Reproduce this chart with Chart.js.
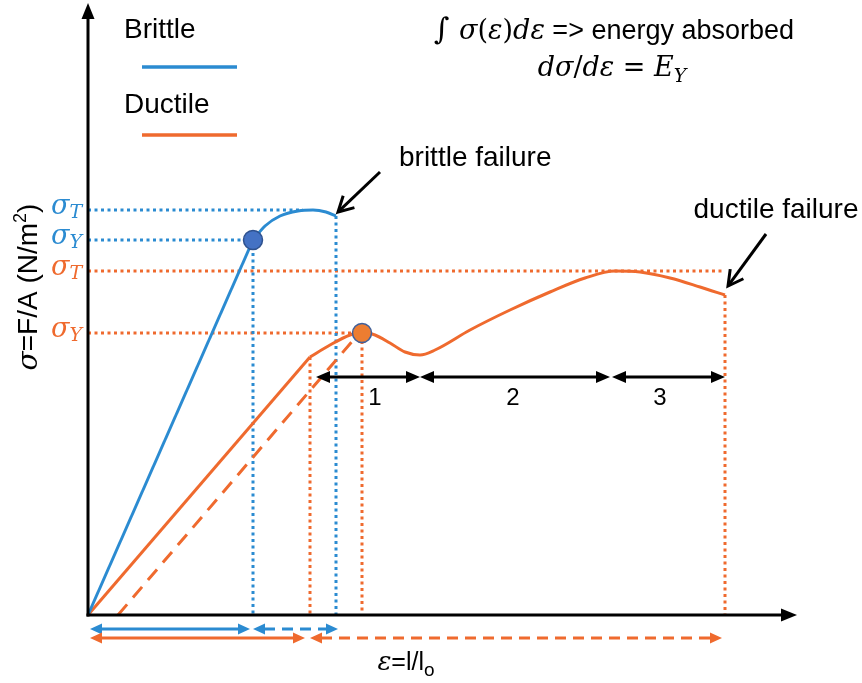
<!DOCTYPE html>
<html><head><meta charset="utf-8">
<script src="https://cdn.jsdelivr.net/npm/chart.js@4/dist/chart.umd.min.js"></script>
<style>html,body{margin:0;padding:0;background:#fff}#wrap{width:862px;height:683px;position:relative}</style>
</head><body><div id="wrap"><canvas id="c"></canvas></div>
<script>
const BLUE = '#2B8BD1';
const ORANGE = '#EF6A2E';

// strain (x) / stress (y) in drawing units, origin at zero strain & stress
const brittleElastic = [{x:0,y:0},{x:165,y:375}];
const brittlePlastic = [{x:165,y:375},{x:177,y:389},{x:192,y:399},{x:210,y:404},{x:225,y:405},{x:238,y:403},{x:248,y:399}];
const ductileElastic = [{x:0,y:0},{x:222,y:258}];
const ductilePlastic = [{x:222,y:258},{x:242,y:270},{x:262,y:280},{x:274,y:283},{x:287,y:280},{x:302,y:272},{x:317,y:263},{x:332,y:260},{x:347,y:265},{x:382,y:285},{x:422,y:305},{x:462,y:323},{x:497,y:337},{x:527,y:344},{x:552,y:343},{x:582,y:337},{x:612,y:328},{x:637,y:320}];
const ductileUnload = [{x:30,y:0},{x:267,y:277}];

// characteristic stresses
const brittleSigmaT = 405, brittleSigmaY = 375;
const ductileSigmaT = 344, ductileSigmaY = 282;
// characteristic strains
const brittleYieldStrain = 165, brittleFailStrain = 248;
const ductileKneeStrain = 222, ductileYieldStrain = 274, ductileFailStrain = 637;
const brittlePeakStrain = 215;

// necking regions 1,2,3
const regionBounds = [[228,332],[332,522],[524,637]];
const regionLabels = ['1','2','3'];
const regionLabelAt = [287, 425, 572];
const regionLevel = 238;

// strain ranges shown below the axis
const brittleRanges = [[2,162,'solid'],[165,250,'dash']];
const ductileRanges = [[2,217,'solid'],[222,634,'dash']];

const dotted = (pts, color) => ({data: pts, borderColor: color, borderWidth: 3, borderDash: [3,3.5], pointRadius: 0, showLine: true, fill: false, order: 5});

const datasets = [
  {data: [{x:brittleYieldStrain, y:brittleSigmaY}], pointRadius: 9.5, pointBackgroundColor: '#4472C4', pointBorderColor: '#2F528F', pointBorderWidth: 1.5, showLine: false, order: 0},
  {data: [{x:ductileYieldStrain, y:ductileSigmaY}], pointRadius: 9.5, pointBackgroundColor: '#ED7D31', pointBorderColor: '#41609A', pointBorderWidth: 1.5, showLine: false, order: 0},
  {data: brittleElastic, borderColor: BLUE, borderWidth: 3, pointRadius: 0, showLine: true, order: 1},
  {data: brittlePlastic, borderColor: BLUE, borderWidth: 3, pointRadius: 0, showLine: true, cubicInterpolationMode: 'monotone', order: 1},
  {data: ductileElastic, borderColor: ORANGE, borderWidth: 3, pointRadius: 0, showLine: true, order: 1},
  {data: ductilePlastic, borderColor: ORANGE, borderWidth: 3, pointRadius: 0, showLine: true, cubicInterpolationMode: 'monotone', order: 1},
  {data: ductileUnload, borderColor: ORANGE, borderWidth: 3, borderDash: [14,9], pointRadius: 0, showLine: true, order: 1},
  dotted([{x:0,y:brittleSigmaT},{x:brittlePeakStrain,y:brittleSigmaT}], BLUE),
  dotted([{x:0,y:brittleSigmaY},{x:brittleYieldStrain,y:brittleSigmaY}], BLUE),
  dotted([{x:brittleYieldStrain,y:brittleSigmaY},{x:brittleYieldStrain,y:0}], BLUE),
  dotted([{x:brittleFailStrain,y:399},{x:brittleFailStrain,y:0}], BLUE),
  dotted([{x:0,y:ductileSigmaT},{x:ductileFailStrain,y:ductileSigmaT}], ORANGE),
  dotted([{x:0,y:ductileSigmaY},{x:ductileYieldStrain,y:ductileSigmaY}], ORANGE),
  dotted([{x:ductileKneeStrain,y:258},{x:ductileKneeStrain,y:0}], ORANGE),
  dotted([{x:ductileYieldStrain,y:274},{x:ductileYieldStrain,y:0}], ORANGE),
  dotted([{x:ductileFailStrain,y:320},{x:ductileFailStrain,y:0}], ORANGE),
];

const SANS = '"Liberation Sans", Arial, sans-serif';
const SERIF = '"DejaVu Serif", "Liberation Serif", serif';

function runs(ctx, x, y, parts, align) {
  // parts: [text, font, dy]
  let w = 0;
  parts.forEach(p => { ctx.font = p[1]; w += ctx.measureText(p[0]).width; });
  let cx = align === 'center' ? x - w/2 : x;
  ctx.textAlign = 'left';
  parts.forEach(p => { ctx.font = p[1]; ctx.fillText(p[0], cx, y + (p[2]||0)); cx += ctx.measureText(p[0]).width; });
}

function head(ctx, x, y, ang, len, wid, color) {
  ctx.save(); ctx.translate(x, y); ctx.rotate(ang);
  ctx.fillStyle = color; ctx.beginPath();
  ctx.moveTo(0,0); ctx.lineTo(-len, -wid/2); ctx.lineTo(-len, wid/2); ctx.closePath(); ctx.fill();
  ctx.restore();
}

function dblArrow(ctx, x1, x2, y, color, dashed, lw, hl, hw) {
  ctx.save(); ctx.strokeStyle = color; ctx.lineWidth = lw;
  ctx.setLineDash(dashed ? [11,7] : []);
  ctx.beginPath(); ctx.moveTo(x1 + hl - 1, y); ctx.lineTo(x2 - hl + 1, y); ctx.stroke();
  ctx.restore();
  head(ctx, x1, y, Math.PI, hl, hw, color);
  head(ctx, x2, y, 0, hl, hw, color);
}

function openArrow(ctx, x1, y1, x2, y2) {
  const a = Math.atan2(y2-y1, x2-x1);
  ctx.save(); ctx.strokeStyle = '#000'; ctx.lineWidth = 3; ctx.lineCap = 'butt'; ctx.lineJoin = 'miter';
  ctx.beginPath(); ctx.moveTo(x1,y1); ctx.lineTo(x2 - 2*Math.cos(a), y2 - 2*Math.sin(a)); ctx.stroke();
  ctx.beginPath();
  const L = 17, s = 0.5;
  ctx.moveTo(x2 - L*Math.cos(a - s), y2 - L*Math.sin(a - s));
  ctx.lineTo(x2, y2);
  ctx.lineTo(x2 - L*Math.cos(a + s), y2 - L*Math.sin(a + s));
  ctx.stroke(); ctx.restore();
}

const decor = {
  id: 'decor',
  afterDatasetsDraw(chart) {
    const ctx = chart.ctx, xs = chart.scales.x, ys = chart.scales.y;
    const X = v => xs.getPixelForValue(v), Y = v => ys.getPixelForValue(v);
    const ox = X(0), oy = Y(0);
    ctx.save();
    // axes
    ctx.strokeStyle = '#000'; ctx.lineWidth = 3;
    ctx.beginPath(); ctx.moveTo(ox, oy + 1.5); ctx.lineTo(ox, Y(598)); ctx.stroke();
    ctx.beginPath(); ctx.moveTo(ox - 1.5, oy); ctx.lineTo(X(695), oy); ctx.stroke();
    head(ctx, ox, Y(612), -Math.PI/2, 16, 13, '#000');
    head(ctx, X(709), oy, 0, 16, 13, '#000');

    // necking regions
    regionBounds.forEach((b, i) => {
      dblArrow(ctx, X(b[0]), X(b[1]), Y(regionLevel), '#000', false, 3, 14, 12);
      ctx.fillStyle = '#000'; ctx.font = '24px ' + SANS; ctx.textAlign = 'center'; ctx.textBaseline = 'middle';
      ctx.fillText(regionLabels[i], X(regionLabelAt[i]), Y(regionLevel) + 21);
    });
    // strain ranges below axis
    brittleRanges.forEach(r => dblArrow(ctx, X(r[0]), X(r[1]), oy + 14, BLUE, r[2]==='dash', 3, 12, 11));
    ductileRanges.forEach(r => dblArrow(ctx, X(r[0]), X(r[1]), oy + 23, ORANGE, r[2]==='dash', 3, 12, 11));

    // failure callouts
    openArrow(ctx, X(292), Y(443), X(250), Y(403));
    openArrow(ctx, X(678), Y(381), X(640), Y(329));
    ctx.fillStyle = '#000'; ctx.textAlign = 'left'; ctx.textBaseline = 'middle';
    ctx.font = '28px ' + SANS;
    ctx.fillText('brittle failure', X(311), Y(457));
    ctx.textAlign = 'center';
    ctx.fillText('ductile failure', X(688), Y(405));

    // stress level labels
    ctx.textBaseline = 'middle';
    const lvl = [[brittleSigmaT,'T',BLUE],[brittleSigmaY,'Y',BLUE],[ductileSigmaT,'T',ORANGE],[ductileSigmaY,'Y',ORANGE]];
    lvl.forEach(l => {
      ctx.fillStyle = l[2];
      runs(ctx, X(-37), Y(l[0]) - 3, [['σ', 'italic 27px ' + SERIF, 0], [l[1], 'italic 19px ' + SERIF, 6]], 'left');
    });

    // legend
    ctx.fillStyle = '#000'; ctx.font = '28px ' + SANS; ctx.textBaseline = 'middle'; ctx.textAlign = 'left';
    ctx.fillText('Brittle', 124, 30);
    ctx.fillText('Ductile', 124, 105);
    ctx.lineWidth = 3.5;
    ctx.strokeStyle = BLUE; ctx.beginPath(); ctx.moveTo(142, 67); ctx.lineTo(237, 67); ctx.stroke();
    ctx.strokeStyle = ORANGE; ctx.beginPath(); ctx.moveTo(142, 135); ctx.lineTo(237, 135); ctx.stroke();

    // relations
    ctx.fillStyle = '#000'; ctx.textBaseline = 'alphabetic';
    const it = 'italic 27px ' + SERIF, up = '27px ' + SERIF;
    runs(ctx, 614, 39, [['∫ ', '30px ' + SERIF, 0], ['σ', it, 0], ['(', up, 0], ['ε', it, 0], [')', up, 0], ['d', it, 0], ['ε', it, 0], [' => energy absorbed', '27px ' + SANS, 0]], 'center');
    runs(ctx, 612, 76, [['d', it, 0], ['σ', it, 0], ['/', up, 0], ['d', it, 0], ['ε', it, 0], [' = ', up, 0], ['E', it, 0], ['Y', 'italic 19px ' + SERIF, 6]], 'center');

    // axis titles
    runs(ctx, 406, 670, [['ε', 'italic 26px ' + SERIF, 0], ['=l/l', '25px ' + SANS, 0], ['o', '19px ' + SANS, 6]], 'center');
    ctx.save(); ctx.translate(37, 287); ctx.rotate(-Math.PI/2);
    runs(ctx, 0, 0, [['σ', 'italic 28px ' + SERIF, 0], ['=F/A (N/m', '28px ' + SANS, 0], ['2', '18px ' + SANS, -11], [')', '28px ' + SANS, 0]], 'center');
    ctx.restore();
    ctx.restore();
  }
};

new Chart(document.getElementById('c'), {
  type: 'scatter',
  data: { datasets },
  options: {
    responsive: true, maintainAspectRatio: false, animation: false,
    layout: { padding: 0, autoPadding: false },
    plugins: { legend: { display: false }, tooltip: { enabled: false } },
    elements: { line: { borderCapStyle: 'butt', tension: 0 } },
    scales: {
      x: { type: 'linear', min: -88, max: 774, display: false },
      y: { type: 'linear', min: -68, max: 615, display: false }
    }
  },
  plugins: [decor]
});
</script></body></html>
